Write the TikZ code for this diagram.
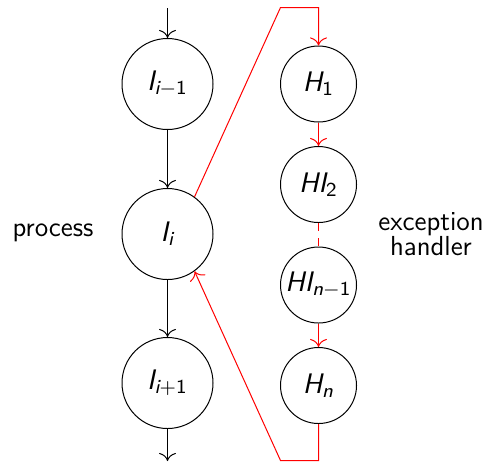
\documentclass[tikz,border=0pt]{standalone}
\usetikzlibrary{arrows.meta}
\newcommand{\sv}[2]{{\sffamily\itshape #1}\textsubscript{\sffamily\itshape #2}}
\begin{document}
\begin{tikzpicture}[x=0.4pt,y=-0.4pt,>={To[scale=1.3]},
  bigc/.style={circle,draw,inner sep=0pt,minimum size=36.4pt,font=\fontsize{11.3}{13}\selectfont},
  smallc/.style={circle,draw,inner sep=0pt,minimum size=30.4pt,font=\fontsize{11.3}{13}\selectfont},
  lbl/.style={font=\fontsize{11}{9.8}\selectfont\sffamily,align=center,inner sep=0pt},
  redl/.style={draw=red,line width=0.4pt}]
\useasboundingbox (0,0) rectangle (484,462);
\node[bigc] (Iim) at (167.5,84) {\sv{I}{i$-${\upshape 1}}};
\node[bigc] (Ii) at (167.5,234) {\sv{I}{i}};
\node[bigc] (Iip) at (167.5,383) {\sv{I}{i{\upshape +1}}};
\node[smallc] (H1) at (318.5,84) {\sv{H}{\upshape 1}};
\node[smallc] (HI2) at (318.5,184.5) {\sv{HI}{\upshape 2}};
\node[smallc] (HIn) at (318.5,285) {\sv{HI}{n$-${\upshape 1}}};
\node[smallc] (Hn) at (318.5,385.5) {\sv{H}{n}};
\node[lbl] (proc) at (53,233) {process};
\node[lbl] (exc) at (431,234) {exception\\handler};
\coordinate (top) at (167.5,8);
\coordinate (bot) at (167.5,461);
\coordinate (r1) at (280.5,7.5);
\coordinate (r2) at (318.5,7.5);
\coordinate (r3) at (318.5,460.5);
\coordinate (r4) at (280.5,460.5);
\draw[->] (top) -- (Iim);
\draw[->] (Iim) -- (Ii);
\draw[->] (Ii) -- (Iip);
\draw[->] (Iip) -- (bot);
\draw[redl,->] (Ii.54) -- (r1) -- (r2) -- (H1);
\draw[redl,->] (H1) -- (HI2);
\draw[redl,dashed] (HI2) -- (HIn);
\draw[redl,->] (HIn) -- (Hn);
\draw[redl,->] (Hn) -- (r3) -- (r4) -- (Ii.-54);
\end{tikzpicture}
\end{document}
